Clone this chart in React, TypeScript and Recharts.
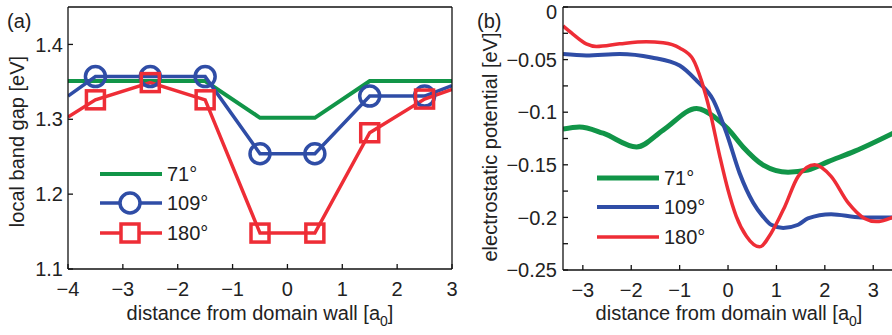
import React from 'react';
import { LineChart, Line, XAxis, YAxis, Label } from 'recharts';

const FONT = '"Liberation Sans", Arial, Helvetica, sans-serif';
const GREEN = '#119548';
const BLUE = '#2f4da6';
const RED = '#ee2d36';
const INK = '#222';

const SERIES_NAMES = ['71°', '109°', '180°'];

// panel (a): local band gap
const A_X = [-4, -3.5, -2.5, -1.5, -0.5, 0.5, 1.5, 2.5, 3];
const A_71 = [1.351, 1.351, 1.351, 1.351, 1.302, 1.302, 1.351, 1.351, 1.351];
const A_109 = [1.331, 1.357, 1.357, 1.357, 1.254, 1.254, 1.331, 1.331, 1.345];
const A_180 = [1.303, 1.326, 1.349, 1.326, 1.148, 1.148, 1.282, 1.327, 1.34];
const A_XTICKS = [-4, -3, -2, -1, 0, 1, 2, 3];
const A_YTICKS = [1.1, 1.2, 1.3, 1.4];

// panel (b): electrostatic potential
const B_71_X = [-3.41, -3.07, -2.58, -1.89, -1.34, -0.65, -0.27, 0, 0.31, 0.72, 1.24, 1.65, 2.07, 2.62, 3.45];
const B_71_Y = [-0.116, -0.114, -0.12, -0.133, -0.117, -0.0965, -0.105, -0.116, -0.133, -0.15, -0.157, -0.155, -0.147, -0.137, -0.119];
const B_109_X = [-3.41, -2.93, -2.24, -1.58, -1.0, -0.65, -0.31, -0.03, 0.24, 0.52, 0.72, 0.89, 1.14, 1.45, 1.65, 2.13, 2.75, 3.45];
const B_109_Y = [-0.0447, -0.046, -0.0447, -0.048, -0.0557, -0.07, -0.088, -0.12, -0.158, -0.186, -0.199, -0.207, -0.21, -0.207, -0.201, -0.197, -0.2, -0.2];
const B_180_X = [-3.41, -3.2, -2.93, -2.72, -2.24, -1.69, -1.34, -1.0, -0.72, -0.55, -0.38, -0.17, 0, 0.17, 0.38, 0.65, 0.89, 1.17, 1.45, 1.79, 2.13, 2.48, 2.82, 3.06, 3.45];
const B_180_Y = [-0.018, -0.026, -0.035, -0.0375, -0.035, -0.033, -0.034, -0.039, -0.05, -0.07, -0.098, -0.142, -0.174, -0.199, -0.218, -0.228, -0.215, -0.19, -0.161, -0.15, -0.161, -0.186, -0.201, -0.204, -0.199];
const B_XTICKS = [-3, -2, -1, 0, 1, 2, 3];
const B_YTICKS = [-0.25, -0.225, -0.2, -0.175, -0.15, -0.125, -0.1, -0.075, -0.05, -0.025, 0];

const aData = A_X.map((x, i) => ({ x, g: A_71[i], b: A_109[i], r: A_180[i] }));
const toRows = (xs: number[], ys: number[]) => xs.map((x, i) => ({ x, v: ys[i] }));

const minus = (v: number) => String(v).replace('-', '\u2212');
const bYFormat = (v: number) => (Math.abs(v * 20 - Math.round(v * 20)) < 1e-6 ? minus(v) : '');

const tickStyle = { fontSize: 20, fontFamily: FONT, fill: INK };
const axisLine = { stroke: '#111', strokeWidth: 1.3 };

// only every second tick is labelled; the top "0" sits a bit lower, as in the figure
const bYTick = (props: any) => {
  const { x, y, payload } = props;
  const label = bYFormat(payload.value);
  if (!label) return <g />;
  const shift = payload.value === 0 ? 5 : 0;
  return (
    <text x={x} y={y + shift} dy="0.355em" textAnchor="end" fontSize={20} fontFamily={FONT} fill={INK}>
      {label}
    </text>
  );
};

const xLabel = (props: any) => {
  const { viewBox } = props;
  const cx = viewBox.x + viewBox.width / 2;
  return (
    <text x={cx} y={320} textAnchor="middle" fontSize={20} fontFamily={FONT} fill={INK}>
      distance from domain wall [a<tspan dy={6} fontSize={14}>0</tspan>
      <tspan dy={-6}>]</tspan>
    </text>
  );
};

const yLabel = (text: string, dx: number, cyAbs: number) => (props: any) => {
  const { viewBox } = props;
  const cx = viewBox.x + dx;
  const cy = cyAbs;
  return (
    <text
      x={cx}
      y={cy}
      transform={`rotate(-90 ${cx} ${cy})`}
      textAnchor="middle"
      dominantBaseline="central"
      fontSize={20}
      fontFamily={FONT}
      fill={INK}
    >
      {text}
    </text>
  );
};

const circleDot = (p: any) => {
  const { cx, cy, index } = p;
  if (index === 0 || index === A_X.length - 1) return <g key={`c${index}`} />;
  return <circle key={`c${index}`} cx={cx} cy={cy} r={10} fill="none" stroke={BLUE} strokeWidth={3.5} />;
};

const squareDot = (p: any) => {
  const { cx, cy, index } = p;
  if (index === 0 || index === A_X.length - 1) return <g key={`s${index}`} />;
  return <rect key={`s${index}`} x={cx - 9} y={cy - 9} width={18} height={18} fill="none" stroke={RED} strokeWidth={3.5} />;
};

function LegendRow({ color, width, marker, label }: { color: string; width: number; marker?: 'o' | 's'; label: string }) {
  return (
    <div style={{ display: 'flex', alignItems: 'center', height: 29.5 }}>
      <svg width={64} height={26} style={{ display: 'block' }}>
        <line x1={1} y1={13} x2={63} y2={13} stroke={color} strokeWidth={width} />
        {marker === 'o' && <circle cx={31} cy={13} r={10} fill="#fff" stroke={color} strokeWidth={3.5} />}
        {marker === 's' && <rect x={22} y={4} width={18} height={18} fill="#fff" stroke={color} strokeWidth={3.5} />}
      </svg>
      <span style={{ marginLeft: 4, fontSize: 20, fontFamily: FONT, color: INK, lineHeight: '20px' }}>{label}</span>
    </div>
  );
}

function PanelA() {
  return (
    <LineChart width={460} height={335} data={aData} margin={{ top: 6, right: 7, left: 0, bottom: 0 }}>
      <XAxis
        dataKey="x"
        type="number"
        domain={[-4, 3]}
        ticks={A_XTICKS}
        tickFormatter={minus}
        height={66}
        tickSize={-5}
        tickMargin={18}
        tick={tickStyle}
        axisLine={axisLine}
        tickLine={axisLine}
        allowDataOverflow
      >
        <Label content={xLabel} />
      </XAxis>
      <XAxis xAxisId="t" orientation="top" type="number" domain={[-4, 3]} ticks={A_XTICKS} height={1} tickSize={-5} tick={false} axisLine={axisLine} tickLine={axisLine} allowDataOverflow />
      <YAxis
        type="number"
        domain={[1.1, 1.45]}
        ticks={A_YTICKS}
        width={68}
        tickSize={-5}
        tickMargin={10}
        tick={tickStyle}
        axisLine={axisLine}
        tickLine={axisLine}
        allowDataOverflow
      >
        <Label content={yLabel('local band gap [eV]', 17, 141.5)} />
      </YAxis>
      <YAxis yAxisId="r" orientation="right" type="number" domain={[1.1, 1.45]} ticks={A_YTICKS} width={1} tickSize={-5} tick={false} axisLine={axisLine} tickLine={axisLine} allowDataOverflow />
      <Line type="linear" dataKey="g" stroke={GREEN} strokeWidth={4} dot={false} isAnimationActive={false} />
      <Line type="linear" dataKey="b" stroke={BLUE} strokeWidth={3.5} dot={circleDot} isAnimationActive={false} />
      <Line type="linear" dataKey="r" stroke={RED} strokeWidth={3.5} dot={squareDot} isAnimationActive={false} />
    </LineChart>
  );
}

function PanelB() {
  return (
    <LineChart width={440} height={335} margin={{ top: 6, right: 4, left: 0, bottom: 0 }}>
      <XAxis
        dataKey="x"
        type="number"
        domain={[-3.41, 3.45]}
        ticks={B_XTICKS}
        tickFormatter={minus}
        height={65}
        tickSize={-5}
        tickMargin={18}
        tick={tickStyle}
        axisLine={axisLine}
        tickLine={axisLine}
        allowDataOverflow
      >
        <Label content={xLabel} />
      </XAxis>
      <XAxis xAxisId="t" orientation="top" type="number" domain={[-3.41, 3.45]} ticks={B_XTICKS} height={1} tickSize={-5} tick={false} axisLine={axisLine} tickLine={axisLine} allowDataOverflow />
      <YAxis
        type="number"
        domain={[-0.25, 0]}
        ticks={B_YTICKS}
        width={103}
        tickSize={-5}
        tickMargin={11}
        tick={bYTick}
        axisLine={axisLine}
        tickLine={axisLine}
        allowDataOverflow
        interval={0}
      >
        <Label content={yLabel('electrostatic potential [eV]', 30, 147)} />
      </YAxis>
      <YAxis yAxisId="r" orientation="right" type="number" domain={[-0.25, 0]} ticks={B_YTICKS} width={1} tickSize={-5} tick={false} axisLine={axisLine} tickLine={axisLine} allowDataOverflow />
      <Line data={toRows(B_71_X, B_71_Y)} type="monotone" dataKey="v" stroke={GREEN} strokeWidth={5} dot={false} isAnimationActive={false} />
      <Line data={toRows(B_109_X, B_109_Y)} type="monotone" dataKey="v" stroke={BLUE} strokeWidth={4} dot={false} isAnimationActive={false} />
      <Line data={toRows(B_180_X, B_180_Y)} type="monotone" dataKey="v" stroke={RED} strokeWidth={3.5} dot={false} isAnimationActive={false} />
    </LineChart>
  );
}

export default function App() {
  return (
    <div style={{ position: 'absolute', left: 0, top: 0, width: 892, height: 335, overflow: 'hidden', background: '#fff' }}>
      <div style={{ position: 'absolute', left: 0, top: 0 }}>
        <PanelA />
      </div>
      <div style={{ position: 'absolute', left: 460, top: 0 }}>
        <PanelB />
      </div>
      <div style={{ position: 'absolute', left: 7, top: 10, fontSize: 20, fontFamily: FONT, color: INK }}>(a)</div>
      <div style={{ position: 'absolute', left: 477, top: 10, fontSize: 20, fontFamily: FONT, color: INK }}>(b)</div>
      <div style={{ position: 'absolute', left: 99, top: 159 }}>
        <LegendRow color={GREEN} width={4} label={SERIES_NAMES[0]} />
        <LegendRow color={BLUE} width={3.5} marker="o" label={SERIES_NAMES[1]} />
        <LegendRow color={RED} width={3.5} marker="s" label={SERIES_NAMES[2]} />
      </div>
      <div style={{ position: 'absolute', left: 596, top: 163 }}>
        <LegendRow color={GREEN} width={5} label={SERIES_NAMES[0]} />
        <LegendRow color={BLUE} width={4} label={SERIES_NAMES[1]} />
        <LegendRow color={RED} width={3.5} label={SERIES_NAMES[2]} />
      </div>
    </div>
  );
}
